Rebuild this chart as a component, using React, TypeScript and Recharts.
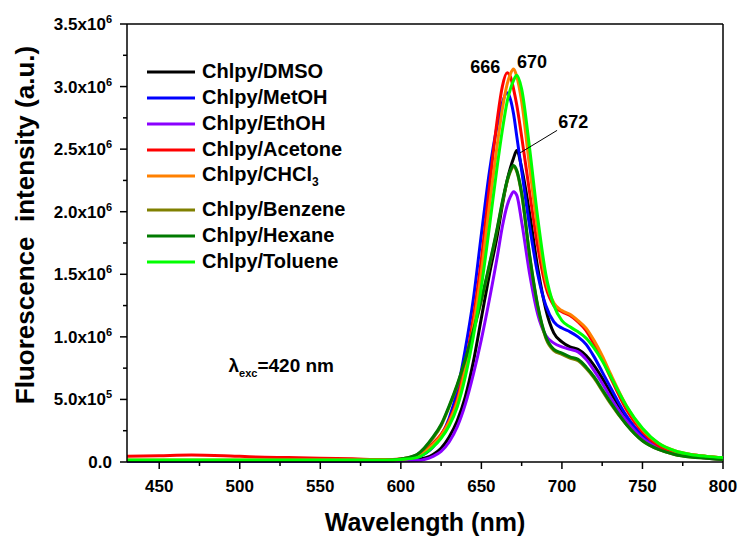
import React from "react";
import {
  LineChart,
  Line,
  XAxis,
  YAxis,
  Legend,
  ReferenceLine,
  ReferenceDot,
} from "recharts";

const FONT = "'Liberation Sans', Arial, Helvetica, sans-serif";

// wavelength grid (nm)
const wavelength = [
  430, 450, 470, 490, 510, 530, 550, 570, 590, 600, 610, 620, 625, 630, 635,
  640, 645, 650, 655, 660, 663, 666, 668, 670, 672, 675, 680, 685, 690, 695,
  700, 705, 710, 715, 720, 725, 730, 740, 750, 760, 770, 780, 790, 800,
];

// intensities in units of 10^6
const dmso = [
  0.01, 0.01, 0.012, 0.01, 0.01, 0.008, 0.008, 0.008, 0.01, 0.012, 0.02, 0.06,
  0.11, 0.2, 0.33, 0.52, 0.8, 1.15, 1.5, 1.82, 2.05, 2.25, 2.35, 2.43, 2.49,
  2.35, 1.98, 1.55, 1.22, 1.03, 0.96, 0.92, 0.9, 0.85, 0.77, 0.67, 0.56, 0.36,
  0.21, 0.12, 0.07, 0.05, 0.035, 0.025,
];
const metoh = [
  0.005, 0.005, 0.006, 0.005, 0.005, 0.005, 0.005, 0.005, 0.006, 0.01, 0.035,
  0.12, 0.21, 0.35, 0.57, 0.9, 1.3, 1.82, 2.32, 2.7, 2.87, 2.95, 2.9, 2.78,
  2.6, 2.33, 1.88, 1.5, 1.25, 1.12, 1.07, 1.04, 1.0, 0.94, 0.84, 0.72, 0.6,
  0.37, 0.21, 0.12, 0.07, 0.05, 0.035, 0.025,
];
const ethoh = [
  0.008, 0.008, 0.008, 0.008, 0.008, 0.008, 0.008, 0.008, 0.008, 0.01, 0.012,
  0.045, 0.085, 0.16, 0.28, 0.46, 0.7, 0.98, 1.3, 1.65, 1.88, 2.05, 2.12,
  2.16, 2.13, 1.92, 1.5, 1.18, 1.01, 0.95, 0.92, 0.9, 0.88, 0.82, 0.73, 0.63,
  0.52, 0.33, 0.19, 0.11, 0.065, 0.045, 0.03, 0.02,
];
const acetone = [
  0.045, 0.05, 0.055, 0.05, 0.04, 0.035, 0.03, 0.025, 0.02, 0.025, 0.05, 0.15,
  0.22, 0.33, 0.5, 0.78, 1.15, 1.62, 2.2, 2.75, 3.0, 3.11, 3.08, 2.98, 2.85,
  2.6, 2.15, 1.72, 1.4, 1.25, 1.2, 1.17, 1.12, 1.05, 0.94, 0.82, 0.68, 0.42,
  0.24, 0.13, 0.08, 0.06, 0.045, 0.035,
];
const chcl3 = [
  0.015, 0.015, 0.015, 0.015, 0.015, 0.015, 0.015, 0.015, 0.015, 0.02, 0.045,
  0.14, 0.21, 0.32, 0.48, 0.74, 1.08, 1.52, 2.05, 2.55, 2.82, 3.02, 3.1, 3.14,
  3.08, 2.88, 2.35, 1.85, 1.45, 1.27, 1.21, 1.18, 1.13, 1.07, 0.97, 0.85,
  0.71, 0.45, 0.26, 0.15, 0.09, 0.06, 0.045, 0.035,
];
const benzene = [
  0.012, 0.012, 0.012, 0.012, 0.012, 0.012, 0.012, 0.012, 0.012, 0.024, 0.058,
  0.19, 0.29, 0.44, 0.61, 0.81, 1.04, 1.29, 1.57, 1.87, 2.07, 2.24, 2.32, 2.36,
  2.32, 2.14, 1.64, 1.24, 0.99, 0.89, 0.86, 0.83, 0.81, 0.75, 0.67, 0.57, 0.47,
  0.3, 0.17, 0.1, 0.06, 0.04, 0.03, 0.02,
];
const hexane = [
  0.012, 0.012, 0.012, 0.012, 0.012, 0.012, 0.012, 0.012, 0.012, 0.025, 0.06,
  0.2, 0.3, 0.45, 0.62, 0.82, 1.05, 1.3, 1.58, 1.88, 2.08, 2.25, 2.33, 2.37,
  2.33, 2.15, 1.65, 1.25, 1.0, 0.9, 0.87, 0.84, 0.82, 0.76, 0.68, 0.58, 0.48,
  0.3, 0.17, 0.1, 0.06, 0.04, 0.03, 0.02,
];
const toluene = [
  0.015, 0.015, 0.015, 0.015, 0.015, 0.015, 0.015, 0.015, 0.015, 0.02, 0.035,
  0.12, 0.19, 0.29, 0.44, 0.68, 1.0, 1.4, 1.88, 2.38, 2.65, 2.88, 2.98, 3.05,
  3.09, 2.98, 2.5, 1.95, 1.5, 1.25, 1.13, 1.08, 1.04, 0.99, 0.91, 0.81, 0.69,
  0.45, 0.27, 0.15, 0.09, 0.06, 0.045, 0.035,
];

const xTicks = [
  450, 475, 500, 525, 550, 575, 600, 625, 650, 675, 700, 725, 750, 775, 800,
];
const yTicks = [
  0, 0.25, 0.5, 0.75, 1, 1.25, 1.5, 1.75, 2, 2.25, 2.5, 2.75, 3, 3.25, 3.5,
];

const series = [
  { key: "dmso", name: "Chlpy/DMSO", color: "#000000", values: dmso },
  { key: "metoh", name: "Chlpy/MetOH", color: "#0000ff", values: metoh },
  { key: "ethoh", name: "Chlpy/EthOH", color: "#8a00ff", values: ethoh },
  { key: "acetone", name: "Chlpy/Acetone", color: "#ff0000", values: acetone },
  { key: "chcl3", name: "Chlpy/CHCl", color: "#ff8000", values: chcl3 },
  { key: "benzene", name: "Chlpy/Benzene", color: "#808000", values: benzene },
  { key: "hexane", name: "Chlpy/Hexane", color: "#007a00", values: hexane },
  { key: "toluene", name: "Chlpy/Toluene", color: "#00ff00", values: toluene },
];

const data = wavelength.map((wl, i) => {
  const row: Record<string, number> = { wl };
  series.forEach((s) => (row[s.key] = s.values[i]));
  return row;
});

const XTick = (props: any) => {
  const { x, y, payload } = props;
  const major = payload.value % 50 === 0;
  return (
    <g>
      <line x1={x} x2={x} y1={y} y2={y + (major ? 7 : 4)} stroke="#000" strokeWidth={1.5} />
      {major && (
        <text x={x} y={y + 30} textAnchor="middle" fontSize={17} fontWeight="bold" fontFamily={FONT} fill="#000">
          {payload.value}
        </text>
      )}
    </g>
  );
};

const YTick = (props: any) => {
  const { x, y, payload } = props;
  const v: number = payload.value;
  const major = Math.abs(v * 2 - Math.round(v * 2)) < 1e-6;
  let label: React.ReactNode = null;
  if (major) {
    if (v === 0) label = "0.0";
    else if (v < 1)
      label = (
        <>
          {(v * 10).toFixed(1)}x10<tspan dy={-7} fontSize={11}>5</tspan>
        </>
      );
    else
      label = (
        <>
          {v.toFixed(1)}x10<tspan dy={-7} fontSize={11}>6</tspan>
        </>
      );
  }
  return (
    <g>
      <line x1={x} x2={x - (major ? 7 : 4)} y1={y} y2={y} stroke="#000" strokeWidth={1.5} />
      {major && (
        <text x={x - 15} y={y + 6} textAnchor="end" fontSize={17} fontWeight="bold" fontFamily={FONT} fill="#000">
          {label}
        </text>
      )}
    </g>
  );
};

const LegendBox = () => (
  <div style={{ fontFamily: FONT, fontWeight: "bold", fontSize: 20, color: "#000" }}>
    {series.map((s) => (
      <div
        key={s.key}
        style={{
          display: "flex",
          alignItems: "center",
          height: 26,
          marginBottom: s.key === "chcl3" ? 8 : 0,
          whiteSpace: "nowrap",
        }}
      >
        <svg width={50} height={6} style={{ marginRight: 6 }}>
          <line x1={1} x2={49} y1={3} y2={3} stroke={s.color} strokeWidth={3} />
        </svg>
        <span>
          {s.name}
          {s.key === "chcl3" && <sub style={{ fontSize: 12 }}>3</sub>}
        </span>
      </div>
    ))}
  </div>
);

const textShape = (txt: string) => (p: any) => (
  <text x={p.cx} y={p.cy} textAnchor="middle" fontSize={18} fontWeight="bold" fontFamily={FONT} fill="#000">
    {txt}
  </text>
);

const excShape = (p: any) => (
  <text x={p.cx} y={p.cy} fontSize={19} fontWeight="bold" fontFamily={FONT} fill="#000">
    λ<tspan dy={5} fontSize={11}>exc</tspan>
    <tspan dy={-5}>=420 nm</tspan>
  </text>
);

export default function App() {
  return (
    <div style={{ position: "absolute", left: 0, top: 0, background: "#fff" }}>
      <LineChart width={739} height={536} data={data} margin={{ top: 24, right: 16, bottom: 0, left: 0 }}>
        <XAxis
          dataKey="wl"
          type="number"
          domain={[430, 800]}
          ticks={xTicks}
          interval={0}
          height={74}
          tickSize={0}
          tickMargin={0}
          tickLine={false}
          axisLine={{ stroke: "#000", strokeWidth: 1.5 }}
          tick={<XTick />}
          label={{
            content: (p: any) => {
              const vb = p.viewBox;
              return (
                <text x={vb.x + vb.width / 2} y={vb.y + 69} textAnchor="middle" fontSize={25} fontWeight="bold" fontFamily={FONT} fill="#000">
                  Wavelength (nm)
                </text>
              );
            },
          }}
        />
        <YAxis
          type="number"
          domain={[0, 3.5]}
          ticks={yTicks}
          interval={0}
          width={127}
          tickSize={0}
          tickMargin={0}
          tickLine={false}
          axisLine={{ stroke: "#000", strokeWidth: 1.5 }}
          tick={<YTick />}
          label={{
            content: (p: any) => {
              const vb = p.viewBox;
              const cy = vb.y + vb.height / 2 - 18;
              return (
                <text
                  x={25}
                  y={cy}
                  transform={`rotate(-90, 25, ${cy})`}
                  textAnchor="middle"
                  dominantBaseline="central"
                  fontSize={26}
                  fontWeight="bold"
                  fontFamily={FONT}
                  fill="#000"
                  style={{ whiteSpace: "pre" }}
                >
                  {"Fluorescence  intensity (a.u.)"}
                </text>
              );
            },
          }}
        />
        <ReferenceLine y={3.5} stroke="#000" strokeWidth={1.5} />
        <ReferenceLine x={800} stroke="#000" strokeWidth={1.5} />
        {series.map((s) => (
          <Line
            key={s.key}
            type="monotone"
            dataKey={s.key}
            name={s.name}
            stroke={s.color}
            strokeWidth={3}
            dot={false}
            isAnimationActive={false}
          />
        ))}
        <ReferenceLine
          segment={[
            { x: 674, y: 2.47 },
            { x: 697, y: 2.65 },
          ]}
          stroke="#000"
          strokeWidth={1}
        />
        <ReferenceDot x={652.4} y={3.11} r={0} shape={textShape("666")} />
        <ReferenceDot x={681.5} y={3.15} r={0} shape={textShape("670")} />
        <ReferenceDot x={707} y={2.67} r={0} shape={textShape("672")} />
        <ReferenceDot x={493} y={0.72} r={0} shape={excShape} />
        <Legend
          layout="horizontal"
          align="center"
          verticalAlign="middle"
          content={() => <LegendBox />}
          wrapperStyle={{ left: 146, top: 58.7, width: "auto", height: "auto", margin: 0 }}
        />
      </LineChart>
    </div>
  );
}
